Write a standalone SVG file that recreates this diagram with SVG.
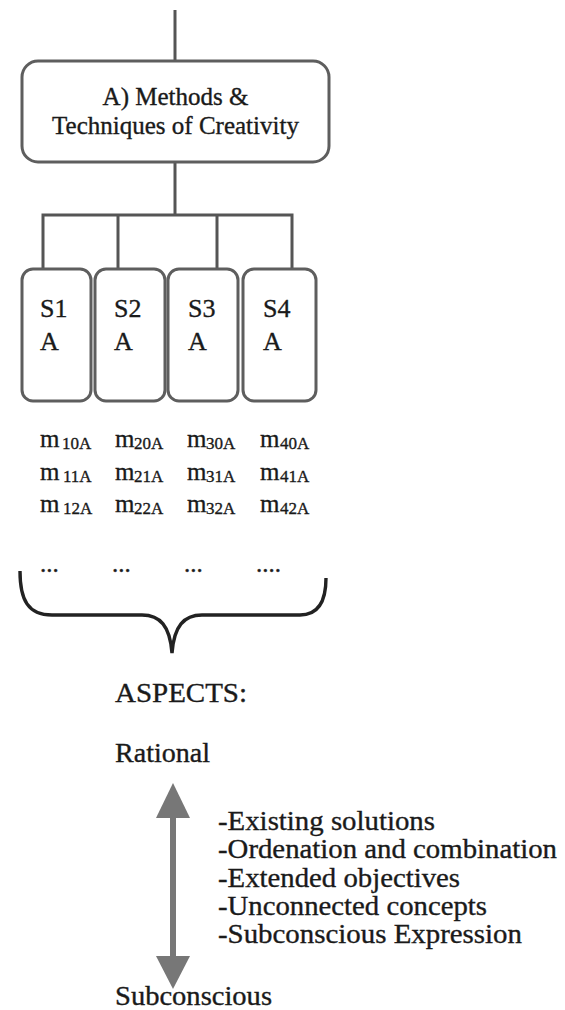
<svg xmlns="http://www.w3.org/2000/svg" width="565" height="1010" viewBox="0 0 565 1010">
<style>
.t{font-family:"Liberation Serif","Times New Roman",serif;fill:#1a1a1a;stroke:#1a1a1a;stroke-width:0.35}
.box{fill:#fff;stroke:#5e5e5e;stroke-width:3}
.ln{fill:none;stroke:#555;stroke-width:3}
.m{font-size:25px}
.sub{font-size:17px}
.s{font-size:26px}
.big{font-size:27px}
</style>
<rect width="565" height="1010" fill="#fff"/>
<g id="connectors">
<line class="ln" x1="175" y1="10" x2="175" y2="61"/>
<line class="ln" x1="175" y1="162" x2="175" y2="215"/>
<polyline class="ln" points="43,270 43,215 292,215 292,270"/>
<line class="ln" x1="118" y1="215" x2="118" y2="270"/>
<line class="ln" x1="217" y1="215" x2="217" y2="270"/>
<path d="M20,571 C20,600 28,615 52,615 L142,615 C160,615 170,626 172,653 C174,626 184,615 202,615 L300,615 C318,615 326,602 326,578" fill="none" stroke="#222" stroke-width="3.4"/>
<g id="arrow">
<rect x="170" y="815" width="6" height="143" fill="#777"/>
<polygon points="173,783 156,818 190,818" fill="#777"/>
<polygon points="173,989 156,956 190,956" fill="#777"/>
</g>
</g>
<g id="main">
<rect class="box" x="22" y="61" width="307" height="101" rx="16"/>
<text class="t" x="175.5" y="105" font-size="25" text-anchor="middle">A) Methods &amp;</text>
<text class="t" x="175.5" y="134" font-size="25" text-anchor="middle">Techniques of Creativity</text>
</g>
<g id="s1">
<rect class="box" x="22" y="269" width="69" height="132" rx="11"/>
<text class="t s" x="40" y="317">S1</text>
<text class="t s" x="40" y="350">A</text>
</g>
<g id="s2">
<rect class="box" x="95" y="269" width="70" height="132" rx="11"/>
<text class="t s" x="114" y="317">S2</text>
<text class="t s" x="114" y="350">A</text>
</g>
<g id="s3">
<rect class="box" x="168" y="269" width="70" height="132" rx="11"/>
<text class="t s" x="188" y="317">S3</text>
<text class="t s" x="188" y="350">A</text>
</g>
<g id="s4">
<rect class="box" x="243" y="269" width="73" height="132" rx="11"/>
<text class="t s" x="263" y="317">S4</text>
<text class="t s" x="263" y="350">A</text>
</g>
<g id="methods">
<text class="t m" x="40" y="447">m</text><text class="t sub" x="62" y="449">10A</text>
<text class="t m" x="115" y="447">m</text><text class="t sub" x="134" y="449">20A</text>
<text class="t m" x="187" y="447">m</text><text class="t sub" x="206" y="449">30A</text>
<text class="t m" x="260" y="447">m</text><text class="t sub" x="280" y="449">40A</text>
<text class="t m" x="40" y="480">m</text><text class="t sub" x="63" y="482">11A</text>
<text class="t m" x="115" y="480">m</text><text class="t sub" x="134" y="482">21A</text>
<text class="t m" x="187" y="480">m</text><text class="t sub" x="206" y="482">31A</text>
<text class="t m" x="260" y="480">m</text><text class="t sub" x="280" y="482">41A</text>
<text class="t m" x="40" y="512">m</text><text class="t sub" x="63" y="514">12A</text>
<text class="t m" x="115" y="512">m</text><text class="t sub" x="134" y="514">22A</text>
<text class="t m" x="187" y="512">m</text><text class="t sub" x="206" y="514">32A</text>
<text class="t m" x="260" y="512">m</text><text class="t sub" x="280" y="514">42A</text>
<text class="t m" x="40" y="572">...</text>
<text class="t m" x="112" y="572">...</text>
<text class="t m" x="184" y="572">...</text>
<text class="t m" x="256" y="572">....</text>
</g>
<g id="aspects">
<text class="t big" x="115" y="702" textLength="132" lengthAdjust="spacingAndGlyphs">ASPECTS:</text>
<text class="t big" x="115" y="762" textLength="95" lengthAdjust="spacingAndGlyphs">Rational</text>
<text class="t big" x="115" y="1005" textLength="157" lengthAdjust="spacingAndGlyphs">Subconscious</text>
</g>
<g id="list">
<text class="t big" x="218" y="830" textLength="217" lengthAdjust="spacingAndGlyphs">-Existing solutions</text>
<text class="t big" x="218" y="858" textLength="339" lengthAdjust="spacingAndGlyphs">-Ordenation and combination</text>
<text class="t big" x="218" y="887" textLength="242" lengthAdjust="spacingAndGlyphs">-Extended objectives</text>
<text class="t big" x="218" y="915" textLength="269" lengthAdjust="spacingAndGlyphs">-Unconnected concepts</text>
<text class="t big" x="218" y="943" textLength="304" lengthAdjust="spacingAndGlyphs">-Subconscious Expression</text>
</g>
</svg>
